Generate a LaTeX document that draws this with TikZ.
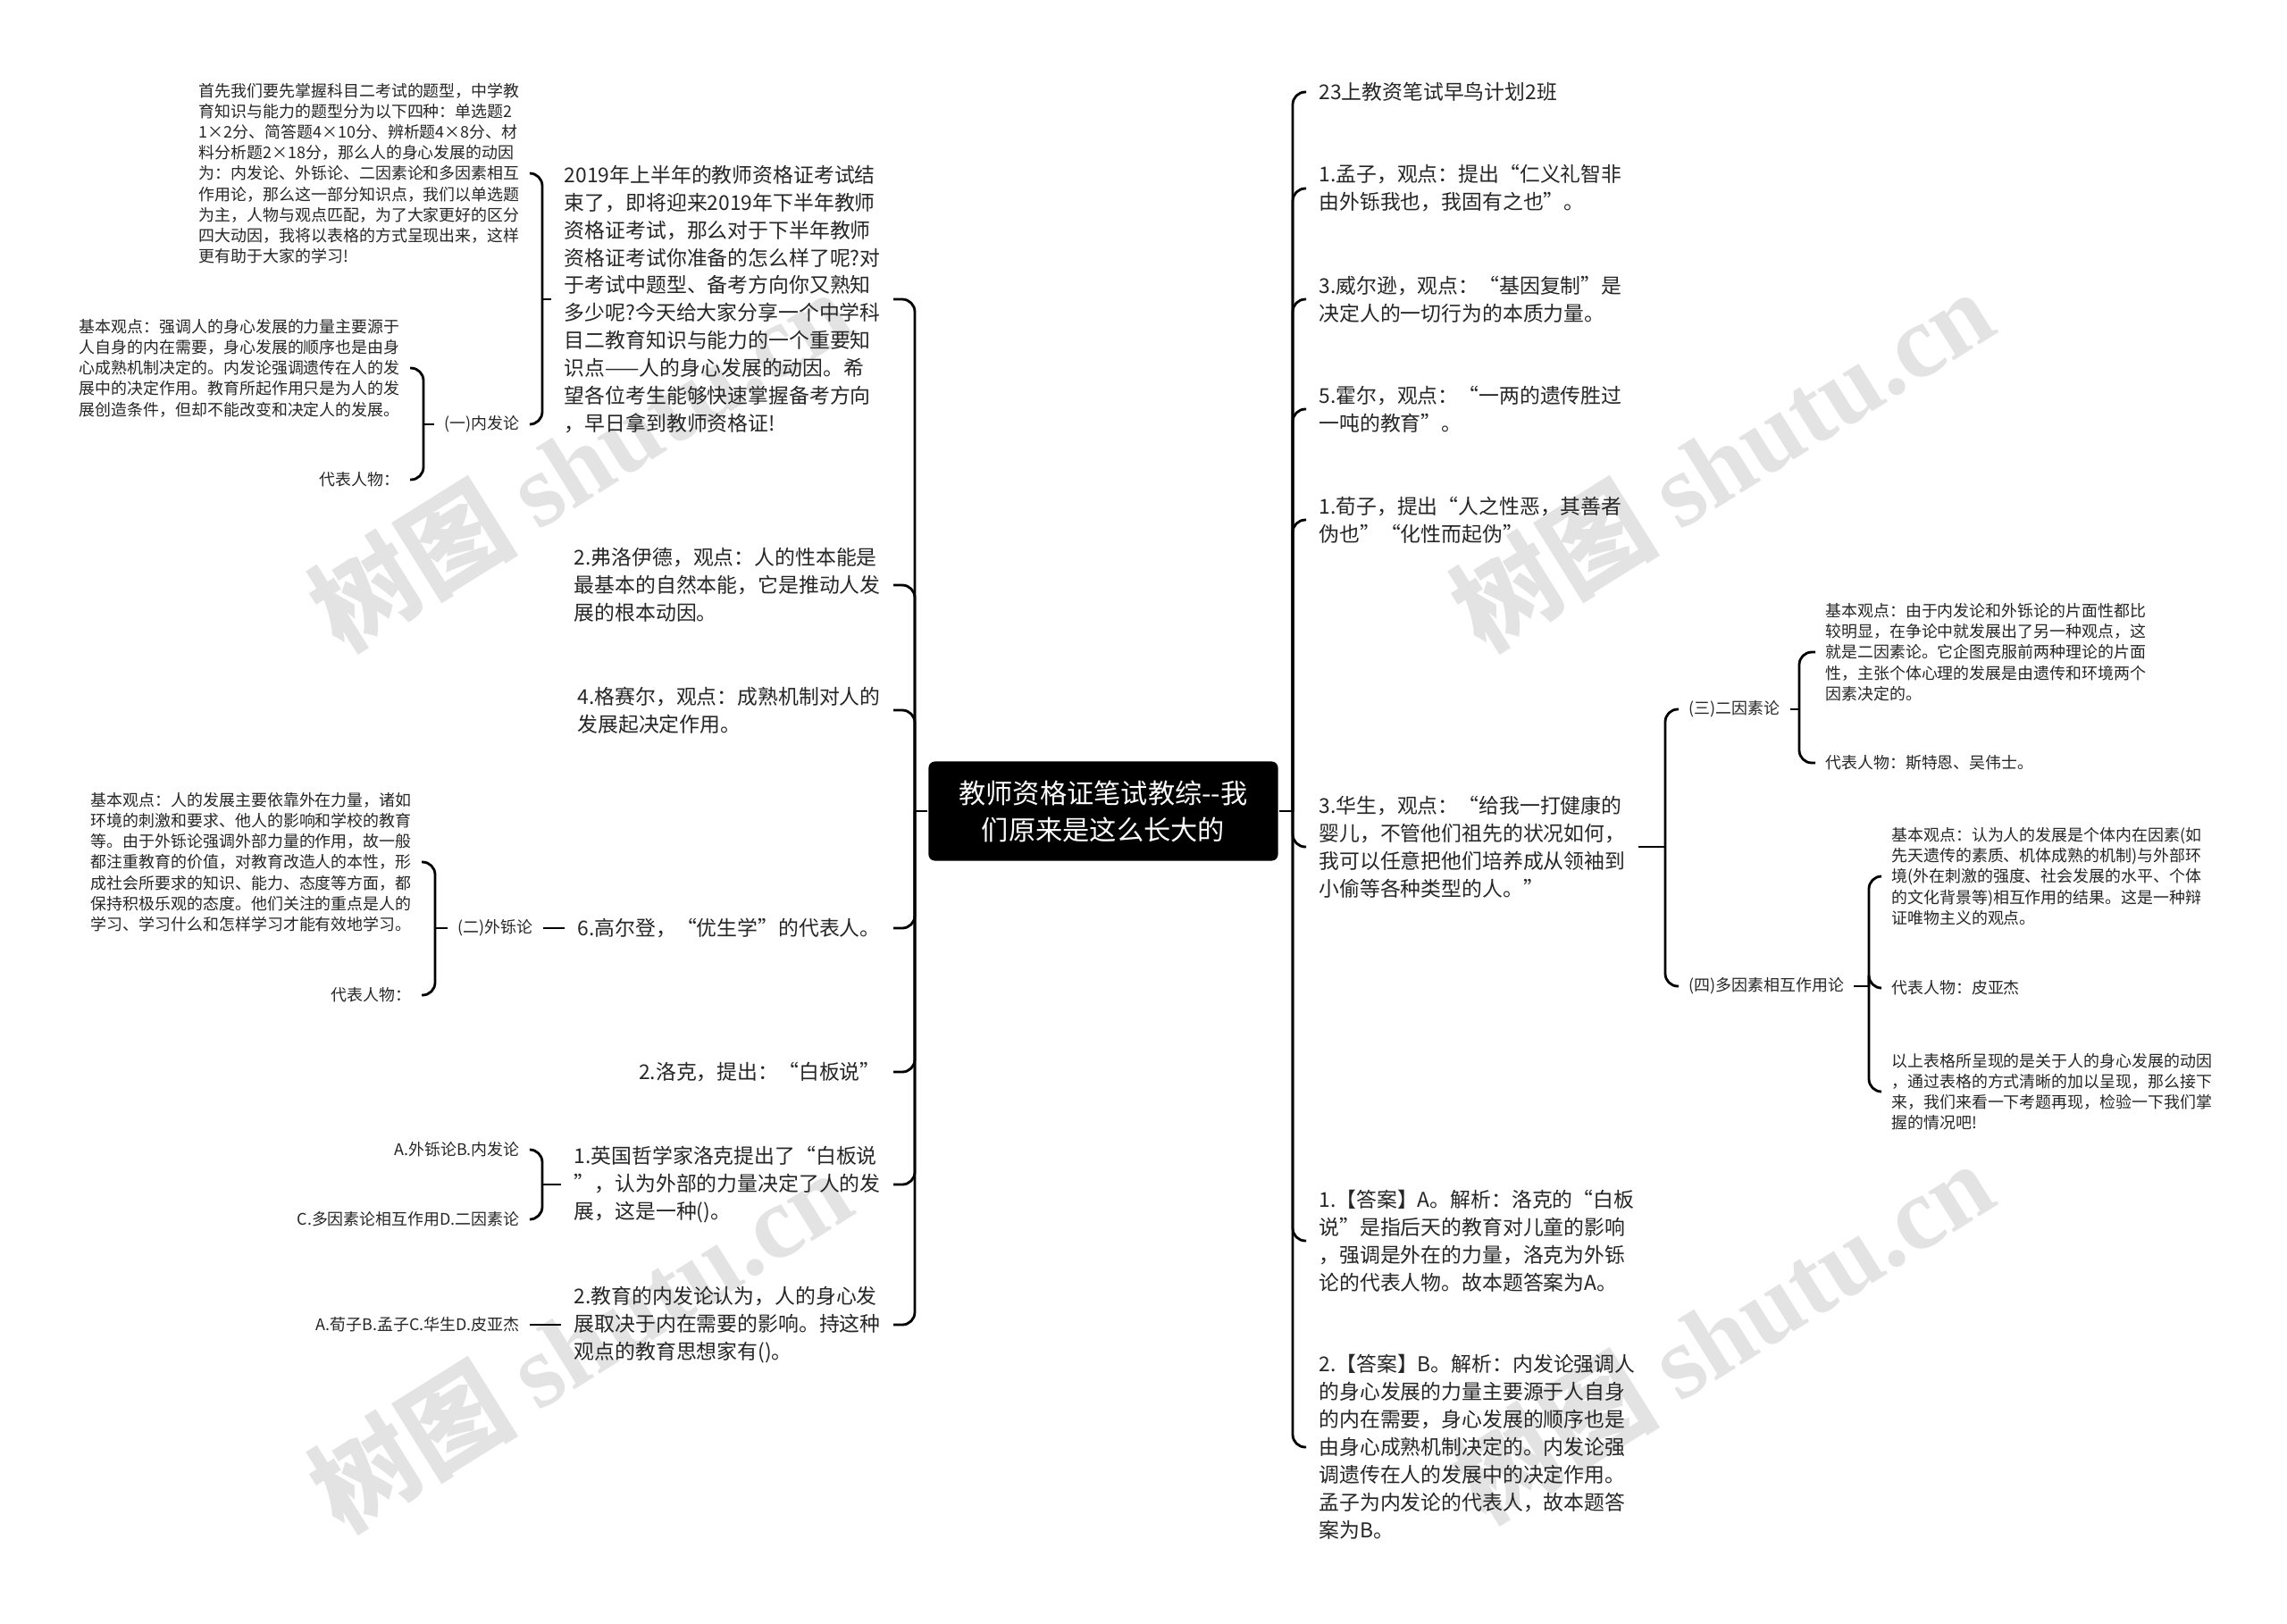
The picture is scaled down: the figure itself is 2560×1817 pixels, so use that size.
\documentclass[tikz,border=0pt]{standalone}
\usepackage{fontspec}
\setmainfont{Noto Sans CJK SC}
\newfontfamily\wmserif{Liberation Serif}

\begin{document}
\begin{tikzpicture}[x=0.01cm,y=-0.01cm,line width=0.8pt]
   \tikzstyle{main}=[align=left, inner xsep=0.13cm, inner ysep=0.05cm, text=black!85, font=\fontsize{6.5pt}{8.8pt}\selectfont]
   \tikzstyle{small}=[align=left, inner xsep=0.1cm, inner ysep=0.04cm, text=black!85, font=\fontsize{5.1pt}{6.6pt}\selectfont]
   \tikzstyle{link}=[rounded corners=4pt]
   \tikzstyle{stamp}=[rotate=32, text=black!11, font=\fontsize{33pt}{33pt}\selectfont]
   \path[fill=white] (0,0) rectangle (2560,1817);
   \foreach \wx/\wy [count=\k] in {649/514,1927/514,649/1500,1927/1490}
      \node[stamp] (wm\k) at (\wx,\wy) {{\bfseries 树图} {\wmserif\bfseries shutu.cn}};

   \node[fill=black, rounded corners=2pt, text=white, align=center, minimum width=3.91cm, minimum height=1.11cm, font=\fontsize{8.6pt}{11.7pt}\selectfont] (root) at (1235,908) {教师资格证笔试教综-{}-我\\们原来是这么长大的};

   % left half
   \node[main,anchor=east] (l2019) at (1000,335) {2019年上半年的教师资格证考试结\\束了，即将迎来2019年下半年教师\\资格证考试，那么对于下半年教师\\资格证考试你准备的怎么样了呢?对\\于考试中题型、备考方向你又熟知\\多少呢?今天给大家分享一个中学科\\目二教育知识与能力的一个重要知\\识点——人的身心发展的动因。希\\望各位考生能够快速掌握备考方向\\，早日拿到教师资格证!};
   \node[main,anchor=east] (lFreud) at (1000,655) {2.弗洛伊德，观点：人的性本能是\\最基本的自然本能，它是推动人发\\展的根本动因。};
   \node[main,anchor=east] (lGesell) at (1000,795) {4.格赛尔，观点：成熟机制对人的\\发展起决定作用。};
   \node[main,anchor=east] (lGalton) at (1000,1039) {6.高尔登，“优生学”的代表人。};
   \node[main,anchor=east] (lLocke) at (1000,1200) {2.洛克，提出：“白板说”};
   \node[main,anchor=east] (lQ1) at (1000,1326) {1.英国哲学家洛克提出了“白板说\\”，认为外部的力量决定了人的发\\展，这是一种()。};
   \node[main,anchor=east] (lQ2) at (1000,1483) {2.教育的内发论认为，人的身心发\\展取决于内在需要的影响。持这种\\观点的教育思想家有()。};

   \node[small,anchor=east] (lIntro) at (593,194) {首先我们要先掌握科目二考试的题型，中学教\\育知识与能力的题型分为以下四种：单选题2\\1×2分、简答题4×10分、辨析题4×8分、材\\料分析题2×18分，那么人的身心发展的动因\\为：内发论、外铄论、二因素论和多因素相互\\作用论，那么这一部分知识点，我们以单选题\\为主，人物与观点匹配，为了大家更好的区分\\四大动因，我将以表格的方式呈现出来，这样\\更有助于大家的学习!};
   \node[small,anchor=east] (lInner) at (593,475) {(一)内发论};
   \node[small,anchor=east] (lInnerView) at (459,412) {基本观点：强调人的身心发展的力量主要源于\\人自身的内在需要，身心发展的顺序也是由身\\心成熟机制决定的。内发论强调遗传在人的发\\展中的决定作用。教育所起作用只是为人的发\\展创造条件，但却不能改变和决定人的发展。};
   \node[small,anchor=east] (lInnerRep) at (459,537) {代表人物：};
   \node[small,anchor=east] (lOuter) at (608,1039) {(二)外铄论};
   \node[small,anchor=east] (lOuterView) at (472,965) {基本观点：人的发展主要依靠外在力量，诸如\\环境的刺激和要求、他人的影响和学校的教育\\等。由于外铄论强调外部力量的作用，故一般\\都注重教育的价值，对教育改造人的本性，形\\成社会所要求的知识、能力、态度等方面，都\\保持积极乐观的态度。他们关注的重点是人的\\学习、学习什么和怎样学习才能有效地学习。};
   \node[small,anchor=east] (lOuterRep) at (472,1114) {代表人物：};
   \node[small,anchor=east] (lQ1a) at (593,1287) {A.外铄论B.内发论};
   \node[small,anchor=east] (lQ1b) at (593,1365) {C.多因素论相互作用D.二因素论};
   \node[small,anchor=east] (lQ2opt) at (593,1483) {A.荀子B.孟子C.华生D.皮亚杰};

   % right half
   \node[main,anchor=west] (r23) at (1462,103) {23上教资笔试早鸟计划2班};
   \node[main,anchor=west] (rMencius) at (1462,211) {1.孟子，观点：提出“仁义礼智非\\由外铄我也，我固有之也”。};
   \node[main,anchor=west] (rWilson) at (1462,335) {3.威尔逊，观点：“基因复制”是\\决定人的一切行为的本质力量。};
   \node[main,anchor=west] (rHall) at (1462,458) {5.霍尔，观点：“一两的遗传胜过\\一吨的教育”。};
   \node[main,anchor=west] (rXunzi) at (1462,582) {1.荀子，提出“人之性恶，其善者\\伪也”“化性而起伪”};
   \node[main,anchor=west] (rWatson) at (1462,948) {3.华生，观点：“给我一打健康的\\婴儿，不管他们祖先的状况如何，\\我可以任意把他们培养成从领袖到\\小偷等各种类型的人。”};
   \node[main,anchor=west] (rAns1) at (1462,1389) {1.【答案】A。解析：洛克的“白板\\说”是指后天的教育对儿童的影响\\，强调是外在的力量，洛克为外铄\\论的代表人物。故本题答案为A。};
   \node[main,anchor=west] (rAns2) at (1462,1620) {2.【答案】B。解析：内发论强调人\\的身心发展的力量主要源于人自身\\的内在需要，身心发展的顺序也是\\由身心成熟机制决定的。内发论强\\调遗传在人的发展中的决定作用。\\孟子为内发论的代表人，故本题答\\案为B。};

   \node[small,anchor=west] (rTwo) at (1879,794) {(三)二因素论};
   \node[small,anchor=west] (rTwoView) at (2032,730) {基本观点：由于内发论和外铄论的片面性都比\\较明显，在争论中就发展出了另一种观点，这\\就是二因素论。它企图克服前两种理论的片面\\性，主张个体心理的发展是由遗传和环境两个\\因素决定的。};
   \node[small,anchor=west] (rTwoRep) at (2032,854) {代表人物：斯特恩、吴伟士。};
   \node[small,anchor=west] (rMulti) at (1879,1104) {(四)多因素相互作用论};
   \node[small,anchor=west] (rMultiView) at (2106,981) {基本观点：认为人的发展是个体内在因素(如\\先天遗传的素质、机体成熟的机制)与外部环\\境(外在刺激的强度、社会发展的水平、个体\\的文化背景等)相互作用的结果。这是一种辩\\证唯物主义的观点。};
   \node[small,anchor=west] (rMultiRep) at (2106,1106) {代表人物：皮亚杰};
   \node[small,anchor=west] (rMultiSum) at (2106,1222) {以上表格所呈现的是关于人的身心发展的动因\\，通过表格的方式清晰的加以呈现，那么接下\\来，我们来看一下考题再现，检验一下我们掌\\握的情况吧!};

   % connectors
   \coordinate (busL) at (1024,908);
   \coordinate (busR) at (1447,908);
   \coordinate (b2019) at (607,335);
   \coordinate (bInner) at (474,475);
   \coordinate (bOuter) at (487,1039);
   \coordinate (bQ1) at (607,1326);
   \coordinate (bWatson) at (1864,948);
   \coordinate (bTwo) at (2014,794);
   \coordinate (bMulti) at (2092,1104);

   \draw (root.west) -- (busL);
   \draw (root.east) -- (busR);
   \foreach \n in {l2019,lFreud,lGesell,lGalton,lLocke,lQ1,lQ2}
      \draw[link] (busL) |- (\n.east);
   \foreach \n in {r23,rMencius,rWilson,rHall,rXunzi,rWatson,rAns1,rAns2}
      \draw[link] (busR) |- (\n.west);

   \draw (l2019.west) -- (b2019);
   \foreach \n in {lIntro,lInner} \draw[link] (b2019) |- (\n.east);
   \draw (lInner.west) -- (bInner);
   \foreach \n in {lInnerView,lInnerRep} \draw[link] (bInner) |- (\n.east);
   \draw (lGalton.west) -- (lOuter.east);
   \draw (lOuter.west) -- (bOuter);
   \foreach \n in {lOuterView,lOuterRep} \draw[link] (bOuter) |- (\n.east);
   \draw (lQ1.west) -- (bQ1);
   \foreach \n in {lQ1a,lQ1b} \draw[link] (bQ1) |- (\n.east);
   \draw (lQ2.west) -- (lQ2opt.east);

   \draw (rWatson.east) -- (bWatson);
   \foreach \n in {rTwo,rMulti} \draw[link] (bWatson) |- (\n.west);
   \draw (rTwo.east) -- (bTwo);
   \foreach \n in {rTwoView,rTwoRep} \draw[link] (bTwo) |- (\n.west);
   \draw (rMulti.east) -- (bMulti);
   \foreach \n in {rMultiView,rMultiRep,rMultiSum} \draw[link] (bMulti) |- (\n.west);
\end{tikzpicture}
\end{document}
